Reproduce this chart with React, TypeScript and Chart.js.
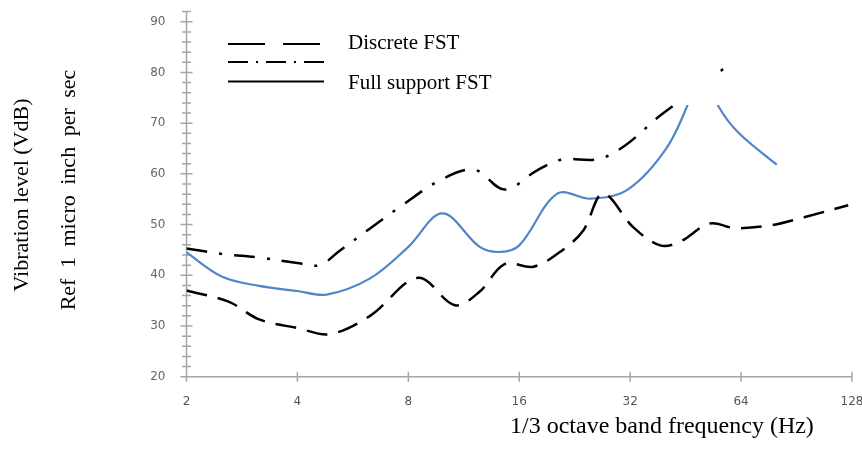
import React, { useEffect, useRef } from "react";
import { Chart, registerables } from "chart.js";

Chart.register(...registerables);

// ---- axis ticks ----
const xTickValues = [2, 4, 8, 16, 32, 64, 128];
const yTickValues = [20, 30, 40, 50, 60, 70, 80, 90];
const yMin = 20;
const yMax = 92;
const yMinorStep = 2;

// ---- Discrete FST (long dashes) ----
const discreteFreq = [2, 2.6, 3.15, 4, 4.9, 6.3, 8.5, 10.7, 12.5, 14.6, 17.5, 21, 23.9, 27, 32.6, 38.6, 43.6, 52.6, 61.7, 77.7, 95.5, 125];
const discreteLevel = [37.0, 34.8, 31.3, 29.6, 28.4, 32.0, 39.5, 34.1, 36.8, 42.2, 41.7, 45.0, 48.9, 56.1, 49.5, 45.9, 46.6, 50.2, 49.3, 49.9, 51.5, 53.8];

// ---- second series (dash-dot) ----
const dashDotFreq = [2, 2.5, 3.15, 4, 4.6, 5.2, 7.7, 9.9, 12.1, 14.6, 17.9, 20.8, 26.2, 31, 38.6, 48, 60];
const dashDotLevel = [45.3, 44.2, 43.5, 42.4, 42.0, 44.8, 53.8, 59.0, 60.8, 56.9, 60.7, 62.8, 62.9, 65.6, 71.5, 76.5, 81.8];

// ---- Full support FST (solid blue) ----
const fullFreq = [2, 2.5, 3.15, 4, 4.8, 6.3, 8, 9.9, 12.5, 14.2, 16, 20.3, 25, 31.5, 40, 45.6, 50, 55.5, 63, 80];
const fullLevel = [44.5, 39.7, 37.9, 36.9, 36.2, 39.4, 45.6, 52.2, 45.6, 44.6, 45.9, 56.1, 55.1, 56.9, 64.9, 73.2, 81, 73.4, 68.1, 61.8];

const legendLabels = ["Discrete FST", "Full support FST"];
const xTitle = "1/3 octave band frequency (Hz)";
const yTitle1 = "Vibration level (VdB)";
const yTitle2 = "Ref 1 micro inch per sec";

const toPoints = (xs: number[], ys: number[]) => xs.map((x, i) => ({ x, y: ys[i] }));

const DASHED = [21, 11];
const DASHDOT = [21, 12, 3, 12];
const BLUE = "#5085c8";

const excelPlugin = {
  id: "excelAxes",
  beforeDatasetsDraw(chart: any) {
    const { ctx, scales } = chart;
    const x = scales.x;
    const y = scales.y;
    const x0 = x.getPixelForValue(xTickValues[0]);
    const x1 = x.getPixelForValue(xTickValues[xTickValues.length - 1]);
    const yb = y.getPixelForValue(yMin);
    const yt = y.getPixelForValue(yMax);
    ctx.save();
    ctx.strokeStyle = "#a6a6a6";
    ctx.lineWidth = 1.5;
    ctx.beginPath();
    ctx.moveTo(x0, yt);
    ctx.lineTo(x0, yb);
    ctx.moveTo(x0, yb);
    ctx.lineTo(x1, yb);
    for (let v = yMin; v <= yMax; v += yMinorStep) {
      const py = y.getPixelForValue(v);
      const len = v % 10 === 0 ? 6 : 4.5;
      ctx.moveTo(x0 - len, py);
      ctx.lineTo(x0 + len, py);
    }
    for (const v of xTickValues) {
      const px = x.getPixelForValue(v);
      ctx.moveTo(px, yb - 5);
      ctx.lineTo(px, yb + 5);
    }
    ctx.stroke();
    ctx.restore();

    // legend samples
    ctx.save();
    ctx.strokeStyle = "#000";
    ctx.lineWidth = 2;
    const lx0 = 228;
    const lx1 = 326;
    ctx.setLineDash([37, 18]);
    ctx.beginPath();
    ctx.moveTo(lx0, 44);
    ctx.lineTo(lx1, 44);
    ctx.stroke();
    ctx.setLineDash([20, 8, 2, 8]);
    ctx.beginPath();
    ctx.moveTo(lx0, 62);
    ctx.lineTo(lx1, 62);
    ctx.stroke();
    ctx.setLineDash([]);
    ctx.beginPath();
    ctx.moveTo(lx0, 81.5);
    ctx.lineTo(lx1 - 2, 81.5);
    ctx.stroke();
    ctx.restore();
  },
  afterDatasetsDraw(chart: any) {
    const { ctx } = chart;
    ctx.save();
    ctx.fillStyle = "#ffffff";
    ctx.fillRect(671, 30, 49, 75);
    ctx.restore();
  },
};

export default function App() {
  const canvasRef = useRef<HTMLCanvasElement | null>(null);

  useEffect(() => {
    const canvas = canvasRef.current;
    if (!canvas) return;
    const chart = new Chart(canvas, {
      type: "line",
      data: {
        datasets: [
          {
            label: legendLabels[0],
            data: toPoints(discreteFreq, discreteLevel),
            borderColor: "#000",
            borderWidth: 2.5,
            borderDash: DASHED,
            pointRadius: 0,
            tension: 0.35,
            fill: false,
          },
          {
            label: "Series 2",
            data: toPoints(dashDotFreq, dashDotLevel),
            borderColor: "#000",
            borderWidth: 2.5,
            borderDash: DASHDOT,
            pointRadius: 0,
            tension: 0.35,
            fill: false,
          },
          {
            label: legendLabels[1],
            data: toPoints(fullFreq, fullLevel),
            borderColor: BLUE,
            borderWidth: 2.2,
            pointRadius: 0,
            tension: 0.35,
            fill: false,
          },
        ],
      },
      options: {
        responsive: false,
        animation: false,
        devicePixelRatio: 1,
        layout: { padding: { top: 11.6, right: 10, bottom: 0, left: 0 } },
        plugins: {
          legend: { display: false },
          tooltip: { enabled: false },
          title: { display: false },
        },
        scales: {
          x: {
            type: "logarithmic",
            min: 2,
            max: 128,
            grid: { display: false },
            border: { display: false },
            afterBuildTicks: (scale: any) => {
              scale.ticks = xTickValues.map((v) => ({ value: v }));
            },
            afterFit: (scale: any) => {
              scale.height = 92.3;
              scale.paddingLeft = 0;
              scale.paddingRight = 0;
            },
            ticks: {
              autoSkip: false,
              maxRotation: 0,
              padding: 10,
              color: "#555",
              font: { family: "DejaVu Sans", size: 12 },
              callback: (v: any) => String(v),
            },
          },
          y: {
            type: "linear",
            min: yMin,
            max: yMax,
            grid: { display: false },
            border: { display: false },
            afterBuildTicks: (scale: any) => {
              scale.ticks = yTickValues.map((v) => ({ value: v }));
            },
            afterFit: (scale: any) => {
              scale.width = 186.5;
              scale.paddingTop = 0;
              scale.paddingBottom = 0;
            },
            ticks: {
              padding: 13,
              color: "#666",
              font: { family: "DejaVu Sans", size: 12 },
              callback: (v: any) => String(v),
            },
          },
        },
      },
      plugins: [excelPlugin],
    });
    return () => chart.destroy();
  }, []);

  const serif = '"Liberation Serif", "Times New Roman", serif';
  const textBase: React.CSSProperties = {
    position: "absolute",
    fontFamily: serif,
    color: "#000",
    whiteSpace: "nowrap",
    lineHeight: "22px",
    fontSize: 21,
  };

  return (
    <div style={{ position: "fixed", left: 0, top: 0, width: 862, height: 469, background: "#fff" }}>
      <canvas ref={canvasRef} width={862} height={469} style={{ position: "absolute", left: 0, top: 0, width: 862, height: 469 }} />
      <div style={{ ...textBase, left: 348, top: 31 }}>{legendLabels[0]}</div>
      <div style={{ ...textBase, left: 348, top: 71 }}>{legendLabels[1]}</div>
      <div style={{ ...textBase, fontSize: 24, lineHeight: "26px", left: 510, top: 412 }}>{xTitle}</div>
      <div
        style={{
          ...textBase,
          fontSize: 22,
          lineHeight: "24px",
          left: 21,
          top: 195,
          transform: "translate(-50%, -50%) rotate(-90deg)",
        }}
      >
        {yTitle1}
      </div>
      <div
        style={{
          ...textBase,
          fontSize: 22,
          lineHeight: "24px",
          left: 68,
          top: 190,
          wordSpacing: 5,
          transform: "translate(-50%, -50%) rotate(-90deg)",
        }}
      >
        {yTitle2}
      </div>
    </div>
  );
}
